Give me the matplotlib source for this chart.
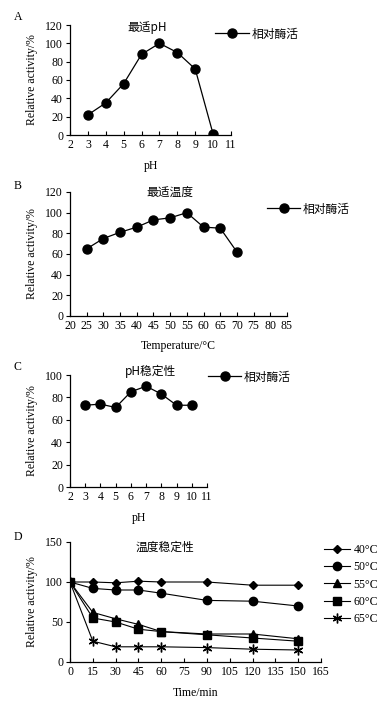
import matplotlib
matplotlib.use("Agg")
import matplotlib.pyplot as plt
from matplotlib.lines import Line2D

plt.rcParams['font.family'] = ['Liberation Serif', 'Noto Sans CJK SC']
plt.rcParams['axes.unicode_minus'] = False

# Panel A: optimal pH
ph_a = [3, 4, 5, 6, 7, 8, 9, 10]
act_a = [22, 35, 56, 88, 100, 90, 72, 1]
# Panel B: optimal temperature
temp_b = [25, 30, 35, 40, 45, 50, 55, 60, 65, 70]
act_b = [65, 75, 81, 86, 93, 95, 100, 86, 85, 62]
# Panel C: pH stability
ph_c = [3, 4, 5, 6, 7, 8, 9, 10]
act_c = [73, 74, 71, 85, 90, 83, 73, 73]
# Panel D: thermal stability
time_d = [0, 15, 30, 45, 60, 90, 120, 150]
series_d = {
    "40°C": [100, 100, 99, 101, 100, 100, 96, 96],
    "50°C": [100, 92, 90, 90, 86, 77, 76, 70],
    "55°C": [100, 62, 54, 47, 38, 35, 35, 29],
    "60°C": [100, 55, 50, 41, 38, 34, 30, 26],
    "65°C": [100, 26, 19, 19, 19, 18, 16, 15],
}
markers_d = ['D', 'o', '^', 's', (6, 2, 0)]
msizes_d = [4.5, 6, 5.5, 5.5, 7]

legend_label = "相对酶活"
ylabel = "Relative activity/%"
titles = ["最适pH", "最适温度", "pH稳定性", "温度稳定性"]
xlabels = ["pH", "Temperature/°C", "pH", "Time/min"]
letters = ["A", "B", "C", "D"]

W, H = 385, 702
fig = plt.figure(figsize=(W / 100, H / 100), dpi=100)

def rect(x0, y0, x1, y1):
    return [x0 / W, 1 - y1 / H, (x1 - x0) / W, (y1 - y0) / H]

FS = 8.5
CJK = ['Noto Sans CJK SC', 'Liberation Serif']

def style(ax, xlim, xticks, ylim, yticks):
    ax.set_xlim(*xlim)
    ax.set_ylim(*ylim)
    ax.set_xticks(xticks)
    ax.set_yticks(yticks)
    for s in ['top', 'right']:
        ax.spines[s].set_visible(False)
    for s in ['left', 'bottom']:
        ax.spines[s].set_linewidth(0.9)
    ax.tick_params(axis='x', direction='in', length=3, width=0.8, labelsize=FS, pad=3)
    ax.tick_params(axis='y', direction='out', length=3, width=0.8, labelsize=FS, pad=2)
    ax.patch.set_alpha(0)

def legend_single(ax, x, y, hl):
    h = Line2D([], [], color='black', lw=0.9, marker='o', markersize=6.5)
    ax.legend([h], [legend_label], loc='center left', bbox_to_anchor=(x / W, 1 - y / H),
              bbox_transform=fig.transFigure, frameon=False, borderpad=0, borderaxespad=0,
              handlelength=hl, handletextpad=0.2, prop={'family': CJK, 'size': FS})

# A
ax = fig.add_axes(rect(70, 25, 231, 135))
ax.plot(ph_a, act_a, color='black', lw=0.9, marker='o', markersize=6.5)
style(ax, (2, 11), range(2, 12), (0, 120), range(0, 121, 20))
ax.set_xlabel(xlabels[0], fontsize=FS, labelpad=6)
ax.set_ylabel(ylabel, fontsize=FS, labelpad=5)
fig.text(147 / W, 1 - 27 / H, titles[0], ha='center', va='center', fontsize=FS, family=CJK)
legend_single(ax, 215, 34, 2.9)
fig.text(14 / W, 1 - 17 / H, letters[0], ha='left', va='center', fontsize=FS)

# B
ax = fig.add_axes(rect(70, 192, 287, 316))
ax.plot(temp_b, act_b, color='black', lw=0.9, marker='o', markersize=6.5)
style(ax, (20, 85), range(20, 86, 5), (0, 120), range(0, 121, 20))
ax.set_xlabel(xlabels[1], fontsize=FS, labelpad=6)
ax.set_ylabel(ylabel, fontsize=FS, labelpad=5)
fig.text(170 / W, 1 - 192 / H, titles[1], ha='center', va='center', fontsize=FS, family=CJK)
legend_single(ax, 267, 209, 2.8)
fig.text(14 / W, 1 - 186 / H, letters[1], ha='left', va='center', fontsize=FS)

# C
ax = fig.add_axes(rect(70, 375, 207, 487))
ax.plot(ph_c, act_c, color='black', lw=0.9, marker='o', markersize=6.5)
style(ax, (2, 11), range(2, 12), (0, 100), range(0, 101, 20))
ax.set_xlabel(xlabels[2], fontsize=FS, labelpad=6)
ax.set_ylabel(ylabel, fontsize=FS, labelpad=5)
fig.text(151 / W, 1 - 371 / H, titles[2], ha='center', va='center', fontsize=FS, family=CJK)
legend_single(ax, 208, 377, 2.8)
fig.text(14 / W, 1 - 367 / H, letters[2], ha='left', va='center', fontsize=FS)

# D
ax = fig.add_axes(rect(70, 542, 321, 662))
handles = []
for (lab, vals), mk, ms in zip(series_d.items(), markers_d, msizes_d):
    l, = ax.plot(time_d, vals, color='black', lw=0.8, marker=mk, markersize=ms,
                 markeredgewidth=1.0, label=lab)
    handles.append(l)
style(ax, (0, 165), range(0, 166, 15), (0, 150), range(0, 151, 50))
ax.set_xlabel(xlabels[3], fontsize=FS, labelpad=6)
ax.set_ylabel(ylabel, fontsize=FS, labelpad=5)
fig.text(165 / W, 1 - 547 / H, titles[3], ha='center', va='center', fontsize=FS, family=CJK)
ax.legend(handles, list(series_d.keys()), loc='upper left', bbox_to_anchor=(324 / W, 1 - 544 / H),
          bbox_transform=fig.transFigure, frameon=False, borderpad=0, borderaxespad=0,
          handlelength=2.2, handletextpad=0.3, labelspacing=0.45,
          prop={'family': ['Liberation Serif', 'DejaVu Sans'], 'size': FS})
fig.text(14 / W, 1 - 537 / H, letters[3], ha='left', va='center', fontsize=FS)

fig.savefig("out.png", dpi=100)
